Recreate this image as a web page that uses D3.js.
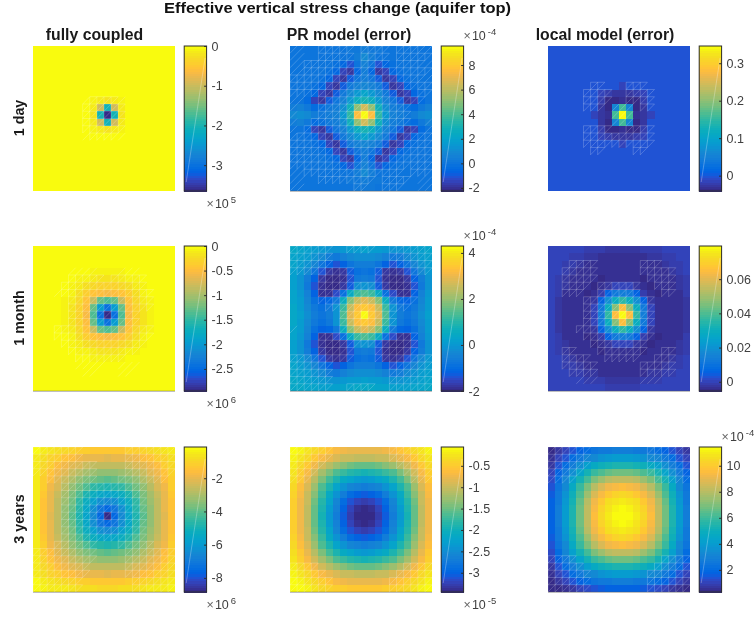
<!DOCTYPE html>
<html>
<head>
<meta charset="utf-8">
<script src="https://cdn.jsdelivr.net/npm/d3@7"></script>
<style>
html,body{margin:0;padding:0;background:#fff;}
svg{display:block;font-family:"Liberation Sans",Arial,sans-serif;filter:blur(0.3px);}
</style>
</head>
<body>
<svg id="chart" width="756" height="620"></svg>
<script>
// MATLAB parula colour table
const parula = [
[.2081,.1663,.5292],[.2116,.1898,.5777],[.2123,.2138,.6270],[.2081,.2386,.6771],[.1959,.2645,.7279],[.1707,.2919,.7792],[.1253,.3242,.8303],[.0591,.3598,.8683],
[.0117,.3875,.8820],[.0060,.4086,.8828],[.0165,.4266,.8786],[.0329,.4430,.8720],[.0498,.4586,.8641],[.0629,.4737,.8554],[.0723,.4887,.8467],[.0779,.5040,.8384],
[.0793,.5200,.8312],[.0749,.5375,.8263],[.0641,.5570,.8240],[.0488,.5772,.8228],[.0343,.5966,.8199],[.0265,.6137,.8135],[.0239,.6287,.8038],[.0231,.6418,.7913],
[.0228,.6535,.7768],[.0267,.6642,.7607],[.0384,.6743,.7436],[.0590,.6838,.7254],[.0843,.6928,.7062],[.1133,.7015,.6859],[.1453,.7098,.6646],[.1801,.7177,.6424],
[.2178,.7250,.6193],[.2586,.7317,.5954],[.3022,.7376,.5712],[.3482,.7424,.5473],[.3953,.7459,.5244],[.4420,.7481,.5033],[.4871,.7491,.4840],[.5300,.7491,.4661],
[.5709,.7485,.4494],[.6099,.7473,.4337],[.6473,.7456,.4188],[.6834,.7435,.4044],[.7184,.7411,.3905],[.7525,.7384,.3768],[.7858,.7356,.3633],[.8185,.7327,.3498],
[.8507,.7299,.3360],[.8824,.7274,.3217],[.9139,.7258,.3063],[.9450,.7261,.2886],[.9739,.7314,.2666],[.9938,.7455,.2403],[.9990,.7653,.2164],[.9955,.7861,.1967],
[.9880,.8066,.1794],[.9789,.8271,.1633],[.9697,.8481,.1475],[.9626,.8705,.1309],[.9589,.8949,.1132],[.9598,.9218,.0948],[.9661,.9514,.0755],[.9763,.9831,.0538]];

const chartTitle = "Effective vertical stress change (aquifer top)";
const columnTitles = ["fully coupled","PR model (error)","local model (error)"];
const rowTitles = ["1 day","1 month","3 years"];

// Field values by offset from the source cell: row = |dy|, column = |dx| (symmetric fields)
const coupled1Day = [
[-3.65,-2.05,-0.2,-0.05,0,0,0,0,0,0,0],
[-2.05,-0.95,-0.16,-0.05,0,0,0,0,0,0,0],
[-0.2,-0.16,-0.08,-0.02,0,0,0,0,0,0,0],
[-0.05,-0.05,-0.02,-0.01,0,0,0,0,0,0,0],
[0,0,0,0,0,0,0,0,0,0,0],[0,0,0,0,0,0,0,0,0,0,0],[0,0,0,0,0,0,0,0,0,0,0],[0,0,0,0,0,0,0,0,0,0,0],
[0,0,0,0,0,0,0,0,0,0,0],[0,0,0,0,0,0,0,0,0,0,0],[0,0,0,0,0,0,0,0,0,0,0]];
const pr1Day = [
[9.5,7.6,3.6,1.5,0.7,0.4,0.2,0.4,0.9,1.2,1.0],
[6.5,5.3,2.8,1.2,0.5,0.2,-0.1,-0.4,0.2,0.6,0.5],
[3.0,2.6,1.6,0.6,0.1,-0.9,-1.7,-1.5,-0.4,0,0],
[2.0,1.6,0.9,0.2,-0.9,-1.7,-1.5,-0.5,-0.1,0,0],
[0.8,0.6,0.2,-0.9,-1.8,-1.5,-0.5,-0.1,0,0,0],
[0.4,0.1,-0.9,-1.8,-1.5,-0.5,-0.1,0,0,0,0],
[0.5,-0.5,-1.8,-1.5,-0.5,-0.1,0,0,0,0,0],
[0.6,0,-1.1,-0.5,-0.1,0,0,0,0,0,0],
[0.9,0.4,0.1,0,0,0,0,0,0,0,0],
[0.4,0.3,0.2,0.1,0,0,0,0,0,0,0],
[0.2,0.2,0.1,0,0,0,0,0,0,0,0]];
const local1Day = [
[0.346,0.16,-0.03,-0.025,-0.012,-0.002,0,0,0,0,0],
[0.16,0.06,-0.035,-0.025,-0.004,-0.001,0,0,0,0,0],
[-0.03,-0.035,-0.04,-0.02,-0.004,0,0,0,0,0,0],
[-0.025,-0.025,-0.02,-0.012,-0.002,0,0,0,0,0,0],
[-0.012,-0.004,-0.004,-0.002,0,0,0,0,0,0,0],
[-0.004,-0.001,0,0,0,0,0,0,0,0,0],
[0,0,0,0,0,0,0,0,0,0,0],[0,0,0,0,0,0,0,0,0,0,0],[0,0,0,0,0,0,0,0,0,0,0],[0,0,0,0,0,0,0,0,0,0,0],[0,0,0,0,0,0,0,0,0,0,0]];
const coupled1Month = [
[-2.95,-2.4,-1.35,-0.52,-0.32,-0.16,-0.07,-0.02,0,0,0],
[-2.4,-1.95,-1.25,-0.5,-0.3,-0.15,-0.06,-0.02,0,0,0],
[-1.35,-1.25,-0.8,-0.45,-0.26,-0.13,-0.05,-0.01,0,0,0],
[-0.52,-0.5,-0.45,-0.33,-0.2,-0.09,-0.03,-0.01,0,0,0],
[-0.32,-0.3,-0.26,-0.2,-0.13,-0.06,-0.02,0,0,0,0],
[-0.16,-0.15,-0.13,-0.09,-0.06,-0.03,-0.01,0,0,0,0],
[-0.07,-0.06,-0.05,-0.03,-0.02,-0.01,0,0,0,0,0],
[-0.02,-0.02,-0.01,-0.01,0,0,0,0,0,0,0],
[0,0,0,0,0,0,0,0,0,0,0],[0,0,0,0,0,0,0,0,0,0,0],[0,0,0,0,0,0,0,0,0,0,0]];
const pr1Month = [
[4.3,3.5,2.9,1.4,-0.1,-0.6,-0.8,-0.6,-0.2,0.2,0.4],
[3.5,3.3,2.6,1.2,-0.1,-0.7,-0.9,-0.7,-0.3,0.1,0.4],
[2.9,2.6,1.9,0.6,-0.7,-1.1,-1.2,-0.9,-0.4,0.1,0.3],
[1.4,1.2,0.5,-0.9,-1.5,-1.9,-1.9,-1.2,-0.5,0,0.3],
[-0.1,-0.2,-1.3,-1.8,-1.95,-2.0,-1.9,-1.4,-0.7,-0.1,0.2],
[-0.6,-0.7,-1.4,-1.9,-2.0,-2.0,-1.8,-1.2,-0.6,-0.1,0.2],
[-0.8,-0.9,-1.3,-1.8,-1.9,-1.8,-1.4,-0.8,-0.3,0,0.2],
[-0.6,-0.6,-0.8,-1.2,-1.4,-1.2,-0.8,-0.4,-0.1,0.1,0.3],
[-0.2,-0.2,-0.3,-0.5,-0.7,-0.6,-0.3,-0.1,0.1,0.2,0.3],
[0.2,0.1,0.1,0,-0.1,-0.1,0,0.1,0.2,0.3,0.4],
[0.4,0.4,0.3,0.3,0.2,0.2,0.2,0.3,0.3,0.4,0.4]];
const local1Month = [
[0.0794,0.065,0.036,0.014,0.001,-0.003,-0.004,-0.004,-0.003,-0.002,0],
[0.065,0.047,0.030,0.012,0,-0.003,-0.004,-0.003,-0.003,-0.002,0],
[0.036,0.030,0.019,0.006,-0.002,-0.004,-0.004,-0.003,-0.003,-0.002,0],
[0.014,0.012,0.006,-0.001,-0.004,-0.005,-0.004,-0.003,-0.003,-0.001,0],
[0.001,0,-0.002,-0.004,-0.005,-0.004,-0.003,-0.003,-0.002,-0.001,0],
[-0.003,-0.003,-0.004,-0.005,-0.004,-0.003,-0.003,-0.003,-0.002,-0.001,0],
[-0.004,-0.004,-0.004,-0.004,-0.003,-0.003,-0.003,-0.002,-0.001,0,0],
[-0.004,-0.003,-0.003,-0.003,-0.003,-0.003,-0.002,-0.001,-0.001,0,0],
[-0.003,-0.003,-0.003,-0.003,-0.002,-0.002,-0.001,-0.001,0,0,0],
[-0.002,-0.002,-0.002,-0.001,-0.001,-0.001,0,0,0,0,0],
[-0.001,-0.001,-0.001,0,0,0,0,0,0,0,0]];
const coupled3Years = [
[-8.85,-7.6,-6.5,-5.6,-4.8,-4.0,-3.3,-2.7,-2.1,-1.4,-0.5],
[-7.6,-7.2,-6.3,-5.5,-4.7,-3.9,-3.3,-2.7,-2.0,-1.4,-0.5],
[-6.5,-6.3,-5.8,-5.2,-4.5,-3.8,-3.2,-2.6,-2.0,-1.4,-0.5],
[-5.6,-5.5,-5.2,-4.8,-4.2,-3.6,-3.0,-2.5,-1.9,-1.3,-0.5],
[-4.8,-4.7,-4.5,-4.2,-3.8,-3.3,-2.8,-2.3,-1.8,-1.2,-0.5],
[-4.0,-3.9,-3.8,-3.6,-3.3,-2.9,-2.5,-2.1,-1.6,-1.1,-0.5],
[-3.3,-3.3,-3.2,-3.0,-2.8,-2.5,-2.1,-1.8,-1.4,-1.0,-0.5],
[-2.7,-2.7,-2.6,-2.5,-2.3,-2.1,-1.8,-1.5,-1.2,-0.9,-0.4],
[-2.1,-2.0,-2.0,-1.9,-1.8,-1.6,-1.4,-1.2,-1.0,-0.7,-0.4],
[-1.3,-1.3,-1.3,-1.2,-1.1,-1.0,-0.9,-0.8,-0.6,-0.4,-0.2],
[-0.9,-0.9,-0.8,-0.8,-0.7,-0.6,-0.5,-0.5,-0.4,-0.3,-0.2]];
const pr3Years = [
[-3.45,-3.4,-3.25,-3.05,-2.7,-2.35,-1.95,-1.5,-1.05,-0.7,-0.45],
[-3.4,-3.35,-3.2,-3.0,-2.65,-2.3,-1.9,-1.5,-1.05,-0.7,-0.45],
[-3.25,-3.2,-3.1,-2.9,-2.55,-2.2,-1.85,-1.45,-1.0,-0.7,-0.45],
[-3.05,-3.0,-2.9,-2.7,-2.4,-2.1,-1.75,-1.35,-1.0,-0.65,-0.4],
[-2.7,-2.65,-2.55,-2.4,-2.2,-1.9,-1.6,-1.25,-0.9,-0.6,-0.35],
[-2.35,-2.3,-2.2,-2.1,-1.9,-1.65,-1.4,-1.1,-0.8,-0.5,-0.3],
[-1.95,-1.9,-1.85,-1.75,-1.6,-1.4,-1.2,-0.95,-0.65,-0.45,-0.25],
[-1.5,-1.5,-1.45,-1.35,-1.25,-1.1,-0.95,-0.7,-0.5,-0.35,-0.2],
[-1.05,-1.05,-1.0,-1.0,-0.9,-0.8,-0.65,-0.5,-0.35,-0.25,-0.15],
[-0.75,-0.75,-0.75,-0.7,-0.65,-0.55,-0.45,-0.35,-0.25,-0.15,-0.1],
[-0.5,-0.5,-0.5,-0.45,-0.45,-0.4,-0.35,-0.25,-0.15,-0.1,-0.06]];
const local3Years = [
[11.44,11.3,11.0,10.4,9.6,8.2,6.8,5.5,4.0,2.8,1.7],
[11.3,11.2,10.9,10.3,9.5,8.2,6.8,5.4,4.0,2.8,1.7],
[11.0,10.9,10.6,10.0,9.2,8.0,6.6,5.3,3.9,2.7,1.7],
[10.4,10.3,10.0,9.5,8.7,7.6,6.3,5.1,3.7,2.6,1.6],
[9.6,9.5,9.2,8.7,8.0,7.0,5.9,4.7,3.4,2.4,1.4],
[8.2,8.2,8.0,7.6,7.0,6.2,5.2,4.2,3.1,2.1,1.2],
[6.8,6.8,6.6,6.3,5.9,5.2,4.4,3.5,2.6,1.8,1.0],
[5.5,5.4,5.3,5.1,4.7,4.2,3.5,2.8,2.1,1.4,0.8],
[4.0,4.0,3.9,3.7,3.4,3.1,2.6,2.1,1.5,1.0,0.6],
[2.8,2.8,2.7,2.6,2.4,2.1,1.8,1.4,1.0,0.7,0.4],
[1.7,1.7,1.7,1.6,1.4,1.2,1.0,0.8,0.6,0.4,0.3]];

// Domains of the colour bars
const domains = [[-3.65,0],[-2.25,9.55],[-0.041,0.346],[-2.95,0],[-2,4.3],[-0.0054,0.0794],[-8.85,-0.12],[-3.45,-0.06],[0.3,11.44]];
const fields = [coupled1Day,pr1Day,local1Day,coupled1Month,pr1Month,local1Month,coupled3Years,pr3Years,local3Years];

// Colour bar ticks
const tickValues = [[0,-1,-2,-3],[8,6,4,2,0,-2],[0.3,0.2,0.1,0],[0,-0.5,-1,-1.5,-2,-2.5],[4,2,0,-2],[0.06,0.04,0.02,0],[-2,-4,-6,-8],[-0.5,-1,-1.5,-2,-2.5,-3],[10,8,6,4,2]];
const exponents = ["5","-4","","6","-4","","6","-5","-4"];
const exponentAtTop = [false,true,false,false,true,false,false,false,true];
const bottomEdge = [0,1,0,1,1,1,1,1,1];

// Mesh overlay state per cell: 2 full triangle, 1 diagonal only, "." none (rows top to bottom)
const e = "";
const meshes = [
[e,e,e,e,e,e,e,".......122221.......",".......222222.......",".......222222.......",".......222222.......",".......222222.......",".......122221.......",e,e,e,e,e,e,e],
["11..22222.2222.22221","11..22222.2222.22222","112222222.2222.22221","11222222222222222222","22222222222222222221","22222222222222222222","22222222222222222.22","11..222222222222222.","1...2222222222222...","1...2222222222222...","1..22222222222222..1","1.2222222222222222.1","12222222222222222222","22222222222222222222","22222222222222222222","22222222222222222222","22222222222222222222","1122222222222222.222","11..22222222.2222.11","11.......22..222..11"],
[e,e,e,e,e,"......22...222......",".....2222..2222.....",".....2222..2222.....",".....222.111.22.....",".........111........",".........111........",".....2222..2222.....",".....2222222222.....",".....2222222222.....","......22....22......",e,e,e,e,e],
[e,e,e,".....1111...111.....",".....22222.22222....","....222222222222....","...12222222222222...",".....222222222222...",".....222222222222...",".....2222222222.....",".....2222222222.....","...22222222222222...","...22222222222222...","....222222222222....",".....2222222222.....","......2222222.......","......1111..111.....",".......11...11......",e,e],
["222222..2222..222222","222222........222222","222222........222222","222222222...22222222","....22222...222222..","....22222222222222..","....22222222222222..","....22222222222222..",".....222222222222...",".......22222222.....",".......22222222.....","1......22222222.....","....22222222222222..","....22222222222222..","....22222...222222..","222222222...22222222","222222........222222","222222........222222","222222........222222","222222..2222..222222"],
[e,e,"...2222......222....","..22222......22222..","..22222.......2222..","..2222.222222..222..","..222..222222...22..",".....2222222222.....",".....2222222222.....",".....2222222222.....",".....2222222222.....","....22222222222.....",".....2222222222.....","......22222222......","..22...2222222..22..","..2222..22222..222..","..22222......22222..","...2222......22222..","....111......111....",e],
["2222222......2222222","2222222......2222222","222222222....2222222","222222222....2222222","..2222222...2222222.","....222222222222....","....222222222222....","....222222222222....","....222222222222....","....222222222222....","....222222222222....","....222222222222....","....222222222222....","...222222...22222...","222222222....2222222","222222222....2222222","22222222.....2222222","22222222.....2222222","2222222.......222222","2222222.......222222"],
["222222........222222","222222........222222","22222..........22222","2222............2222","222..............222",e,e,e,e,e,e,e,e,e,e,e,"2222............2222","22222..........22222","222222........222222","222222........222222"],
["222222........222222","222222........222222","222222........222222","22222.........222222","2222...........22222",e,e,e,e,e,e,e,e,e,e,"2222............2222","22222..........22222","222222........222222","222222........222222","222222........222222"]
];

const svg = d3.select("#chart");
const colX = [33,290,548], mapW = 142, rowY = [46,246,447], mapH = 145, barGap = 9.2, barW = 22.4;
const nCells = 20, srcCol = 10, srcRow = 9;
const colors = parula.map(c => d3.rgb(c[0]*255,c[1]*255,c[2]*255).formatHex());
const indices = d3.range(nCells);
const gridLines = "rgba(255,255,255,0.27)";

svg.append("text").attr("x",337.5).attr("y",13.4).attr("text-anchor","middle")
  .attr("textLength",347).attr("lengthAdjust","spacingAndGlyphs")
  .style("font-size","14.7px").style("font-weight","bold").attr("fill","#111").text(chartTitle);
const titleX = [94.5,349,605];
columnTitles.forEach((t,i)=>svg.append("text").attr("x",titleX[i]).attr("y",40).attr("text-anchor","middle")
  .style("font-size","15.8px").style("font-weight","bold").attr("fill","#1a1a1a").text(t));
const rowLabelY = [118,318,519];
rowTitles.forEach((t,i)=>svg.append("text").attr("transform",`translate(24,${rowLabelY[i]}) rotate(-90)`).attr("text-anchor","middle")
  .style("font-size","14.3px").style("font-weight","bold").attr("fill","#1a1a1a").text(t));

fields.forEach((field,p)=>{
  const col = p%3, row = Math.floor(p/3);
  const x = d3.scaleBand().domain(indices).range([colX[col],colX[col]+mapW]);
  const y = d3.scaleBand().domain(indices).range([rowY[row],rowY[row]+mapH]);
  const level = d3.scaleQuantize().domain(domains[p]).range(colors);
  const cells = [];
  indices.forEach(r=>indices.forEach(c=>cells.push({r,c,v:field[Math.abs(r-srcRow)][Math.abs(c-srcCol)],m:(meshes[p][r]||"").charAt(c)})));
  const g = svg.append("g");
  g.selectAll("rect").data(cells).join("rect")
    .attr("shape-rendering","crispEdges")
    .attr("x",d=>x(d.c)).attr("y",d=>y(d.r))
    .attr("width",x.bandwidth()).attr("height",y.bandwidth())
    .attr("fill",d=>level(d.v));
  const path = d3.path();
  cells.forEach(d=>{
    const x0=x(d.c),y0=y(d.r),x1=x0+x.bandwidth(),y1=y0+y.bandwidth();
    if(d.m==="1"||d.m==="2"){path.moveTo(x0,y1);path.lineTo(x1,y0);}
    if(d.m==="2"){path.moveTo(x0,y1);path.lineTo(x0,y0);path.lineTo(x1,y0);}
  });
  g.append("path").attr("d",path.toString()).attr("fill","none").attr("stroke",gridLines).attr("stroke-width",0.75);
  if(bottomEdge[p]) g.append("line").attr("x1",colX[col]).attr("x2",colX[col]+mapW)
    .attr("y1",rowY[row]+mapH+0.2).attr("y2",rowY[row]+mapH+0.2).attr("stroke","#555").attr("stroke-opacity",0.55).attr("stroke-width",1);

  // colour bar
  const bx = colX[col]+mapW+barGap;
  const by = d3.scaleLinear().domain(domains[p]).range([rowY[row]+mapH,rowY[row]]);
  const steps = d3.range(colors.length);
  const stepH = mapH/colors.length;
  const bar = svg.append("g");
  bar.selectAll("rect").data(steps).join("rect").attr("shape-rendering","crispEdges").attr("x",bx).attr("width",barW)
    .attr("y",i=>rowY[row]+mapH-(i+1)*stepH).attr("height",stepH+0.6).attr("fill",i=>colors[i]);
  bar.append("line").attr("x1",bx+2).attr("y1",rowY[row]+mapH-9).attr("x2",bx+barW-1.5).attr("y2",rowY[row]+12)
    .attr("stroke","rgba(255,255,255,0.4)").attr("stroke-width",0.7);
  bar.append("rect").attr("x",bx).attr("y",rowY[row]).attr("width",barW).attr("height",mapH)
    .attr("fill","none").attr("stroke","#2e2e2e").attr("stroke-width",1);
  const axis = d3.axisRight(by).tickValues(tickValues[p]).tickSize(-2.5).tickPadding(5).tickFormat(d=>String(d));
  const ag = svg.append("g").attr("transform",`translate(${bx+barW},0)`).call(axis);
  ag.select(".domain").remove();
  ag.selectAll("line").attr("stroke","#2e2e2e");
  ag.selectAll("text").attr("fill","#404040").style("font-size","12.5px").style("font-family","'Liberation Sans',Arial,sans-serif");

  if(exponents[p]){
    const top = exponentAtTop[p];
    const ex = bx + barW;
    const ey = top ? rowY[row]-6 : rowY[row]+mapH+17;
    const t = svg.append("text").attr("x",ex).attr("y",ey).attr("fill","#404040").style("font-size","12.5px");
    t.append("tspan").attr("fill","#666").text("\u00D7");
    t.append("tspan").attr("dx",1).text("10");
    t.append("tspan").attr("dx",2).attr("dy",-5).style("font-size","9.5px").text(exponents[p]);
  }
});
</script>
</body>
</html>
